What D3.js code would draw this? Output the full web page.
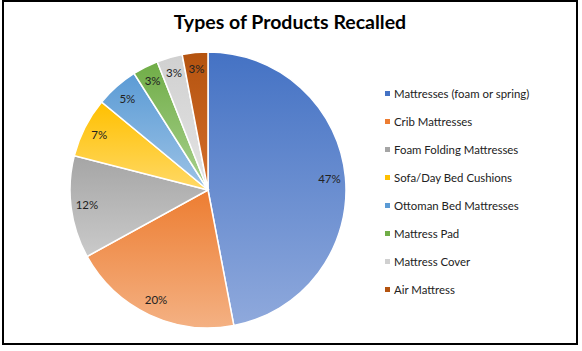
<!DOCTYPE html>
<html>
<head>
<meta charset="utf-8">
<script src="https://cdn.jsdelivr.net/npm/d3@7"></script>
<style>
  body { margin: 0; background: #fff; }
  text { font-family: "Lato", "Open Sans", sans-serif; }
</style>
</head>
<body>
<div id="chart"></div>
<script>
// data
const categories = ["Mattresses (foam or spring)", "Crib Mattresses", "Foam Folding Mattresses",
  "Sofa/Day Bed Cushions", "Ottoman Bed Mattresses", "Mattress Pad", "Mattress Cover", "Air Mattress"];
const shares = [47, 20, 12, 7, 5, 3, 3, 3];
const topColors = ["#4472c4", "#ed7d31", "#a5a5a5", "#ffc000", "#5b9bd5", "#70ad47", "#d0d0d0", "#b4530f"];
const bottomColors = ["#8fa9dc", "#f4b183", "#cacaca", "#ffd966", "#9dc3e6", "#a9d18e", "#e4e4e4", "#d46e2b"];

const width = 582, height = 351;
const cx = 208, cy = 190, radius = 138;

const svg = d3.select("#chart").append("svg")
    .attr("width", width)
    .attr("height", height);

svg.append("rect")
    .attr("x", 3).attr("y", 1)
    .attr("width", 574).attr("height", 343)
    .attr("fill", "#fff")
    .attr("stroke", "#000")
    .attr("stroke-width", 2);

svg.append("text")
    .attr("x", 290).attr("y", 29)
    .attr("text-anchor", "middle")
    .style("font-size", "19.5px")
    .style("font-weight", "bold")
    .text("Types of Products Recalled");

// per slice vertical gradients
const defs = svg.append("defs");
categories.forEach((c, i) => {
    const g = defs.append("linearGradient")
        .attr("id", "grad" + i)
        .attr("x1", 0).attr("y1", 0).attr("x2", 0).attr("y2", 1);
    g.append("stop").attr("offset", "0%").attr("stop-color", topColors[i]);
    g.append("stop").attr("offset", "100%").attr("stop-color", bottomColors[i]);
});

const pie = d3.pie().sort(null).value(d => d);
const arc = d3.arc().innerRadius(0).outerRadius(radius);
const labelArc = d3.arc().innerRadius(122).outerRadius(122);

const pieG = svg.append("g").attr("transform", `translate(${cx},${cy})`);
const arcs = pie(shares);

pieG.selectAll("path")
    .data(arcs)
    .enter().append("path")
    .attr("d", arc)
    .attr("fill", (d, i) => `url(#grad${i})`)
    .attr("stroke", "#fff")
    .attr("stroke-width", 1.5);

pieG.selectAll("text.lbl")
    .data(arcs)
    .enter().append("text")
    .attr("class", "lbl")
    .attr("transform", d => `translate(${labelArc.centroid(d)})`)
    .attr("text-anchor", "middle")
    .attr("dy", "0.35em")
    .style("font-size", "11.5px")
    .style("fill", "#222")
    .text(d => d.data + "%");

// legend
const legend = svg.append("g").attr("transform", "translate(385,94)");
const rows = legend.selectAll("g")
    .data(categories)
    .enter().append("g")
    .attr("transform", (d, i) => `translate(0,${i * 28})`);

rows.append("rect")
    .attr("x", 0).attr("y", -3)
    .attr("width", 5).attr("height", 5)
    .attr("fill", (d, i) => topColors[i]);

rows.append("text")
    .attr("x", 9).attr("y", 0)
    .attr("dy", "0.35em")
    .style("font-size", "11.4px")
    .style("fill", "#222")
    .text(d => d);
</script>
</body>
</html>
